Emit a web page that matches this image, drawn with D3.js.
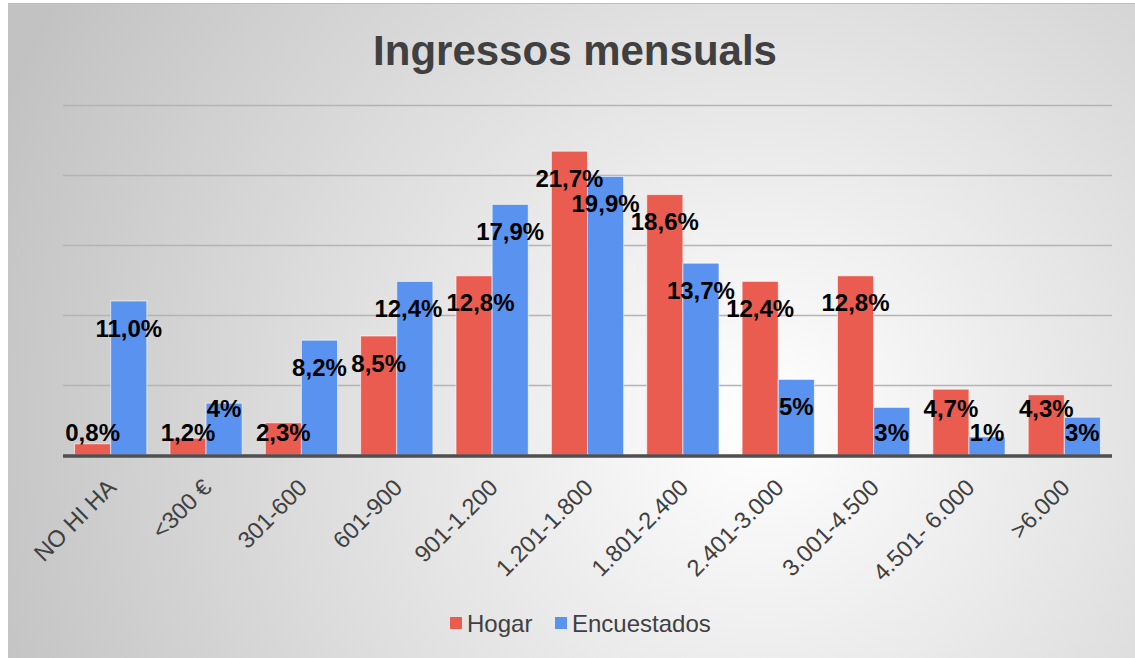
<!DOCTYPE html>
<html>
<head>
  <meta charset="utf-8">
  <script src="https://d3js.org/d3.v7.min.js"></script>
  <style>
  body {
    margin:0;
    background:#fff;
  }
  svg text {
    font-family: "Liberation Sans", Arial, sans-serif;
  }
  .x.axis text {
    font-size: 23.5px;
    fill: #404040;
  }
  .lbl {
    font-size: 24px;
    font-weight: bold;
    fill: #000;
  }
</style>
</head>
<body>
<script>

  var categories = ["NO HI HA", "<300 €", "301-600", "601-900", "901-1.200", "1.201-1.800",
    "1.801-2.400", "2.401-3.000", "3.001-4.500", "4.501- 6.000", ">6.000"];
  var series = ["Hogar", "Encuestados"];
  var hogar = [0.8, 1.2, 2.3, 8.5, 12.8, 21.7, 18.6, 12.4, 12.8, 4.7, 4.3];
  var encuestados = [11.0, 3.7, 8.2, 12.4, 17.9, 19.9, 13.7, 5.4, 3.4, 1.3, 2.7];
  var hogarLabels = ["0,8%", "1,2%", "2,3%", "8,5%", "12,8%", "21,7%", "18,6%", "12,4%", "12,8%", "4,7%", "4,3%"];
  var encuestadosLabels = ["11,0%", "4%", "8,2%", "12,4%", "17,9%", "19,9%", "13,7%", "5%", "3%", "1%", "3%"];
  var gridTicks = [0, 5, 10, 15, 20, 25];

  var colors = {"Hogar": "#EA5C50", "Encuestados": "#5A93EF"};

  var W = 1135, H = 658;
  var plot = {left: 63, right: 1112, top: 105, bottom: 455};

  var svg = d3.select("body").append("svg")
    .attr("width", W)
    .attr("height", H);

  // background
  var defs = svg.append("defs");
  var grad = defs.append("radialGradient")
    .attr("id", "bg")
    .attr("gradientUnits", "userSpaceOnUse")
    .attr("cx", 760).attr("cy", 420).attr("r", 820);
  grad.append("stop").attr("offset", "0%").attr("stop-color", "#ffffff");
  grad.append("stop").attr("offset", "100%").attr("stop-color", "#c2c2c2");

  svg.append("rect")
    .attr("x", 8).attr("y", 3)
    .attr("width", W - 8).attr("height", H - 3)
    .attr("fill", "url(#bg)");
  svg.append("line")
    .attr("x1", 8).attr("x2", W).attr("y1", 3.5).attr("y2", 3.5)
    .attr("stroke", "#bdbdbd");

  var x = d3.scaleBand().domain(categories).range([plot.left, plot.right]).padding(0);
  var x1 = d3.scaleBand().domain(series).range([0, x.bandwidth()]).paddingInner(0).paddingOuter(0.32);
  var y = d3.scaleLinear().domain([0, 25]).range([plot.bottom, plot.top]);

  // gridlines
  svg.append("g")
    .selectAll("line")
    .data(gridTicks.slice(1))
    .enter().append("line")
    .attr("x1", plot.left).attr("x2", plot.right)
    .attr("y1", d => y(d) + 0.5).attr("y2", d => y(d) + 0.5)
    .attr("stroke", "#b4b4b4")
    .attr("stroke-width", 1.3);

  // title
  svg.append("text")
    .attr("x", 575).attr("y", 65)
    .attr("text-anchor", "middle")
    .style("font-size", "42px")
    .style("font-weight", "bold")
    .style("fill", "#404040")
    .text("Ingressos mensuals");

  var rows = categories.map((c, i) => ({
    cat: c,
    vals: [
      {s: "Hogar", v: hogar[i], l: hogarLabels[i]},
      {s: "Encuestados", v: encuestados[i], l: encuestadosLabels[i]}
    ]
  }));

  // label placement: inside the top of the bar, but never below the floor;
  // when the pair collide on the floor, lift the taller bar's label
  var floorY = y(0) - 23;
  rows.forEach(r => {
    r.vals.forEach(d => { d.ly = Math.min(y(d.v) + 27, floorY); });
    var a = r.vals[0], b = r.vals[1];
    if (Math.abs(a.ly - b.ly) < 20) {
      var hi = a.v > b.v ? a : b, lo = hi === a ? b : a;
      hi.ly = lo.ly - 24;
    }
  });

  var groups = svg.selectAll(".grp")
    .data(rows)
    .enter().append("g")
    .attr("class", "grp")
    .attr("transform", d => "translate(" + x(d.cat) + ",0)");

  groups.selectAll("rect")
    .data(d => d.vals)
    .enter().append("rect")
    .attr("x", d => x1(d.s))
    .attr("width", x1.bandwidth())
    .attr("y", d => y(d.v))
    .attr("height", d => y(0) - y(d.v))
    .attr("fill", d => colors[d.s])
    .attr("stroke", "rgba(255,255,255,0.6)")
    .attr("stroke-width", 1);

  // baseline
  svg.append("line")
    .attr("x1", plot.left).attr("x2", plot.right)
    .attr("y1", y(0) + 1).attr("y2", y(0) + 1)
    .attr("stroke", "#4f4f4f")
    .attr("stroke-width", 3.5);

  // data labels
  var labels = groups.selectAll(".lbl")
    .data(d => d.vals)
    .enter().append("text")
    .attr("class", "lbl")
    .attr("x", d => x1(d.s) + x1.bandwidth() / 2)
    .attr("y", d => d.ly)
    .attr("text-anchor", "middle")
    .attr("dominant-baseline", "central")
    .text(d => d.l);

  // push apart neighbouring labels that sit at nearly the same height
  var nodes = labels.nodes();
  for (var i = 1; i < nodes.length; i++) {
    var pa = nodes[i - 1], pb = nodes[i];
    var da = d3.select(pa).datum(), db = d3.select(pb).datum();
    if (Math.abs(da.ly - db.ly) > 12) continue;
    var ba = pa.getBoundingClientRect(), bb = pb.getBoundingClientRect();
    var overlap = ba.right - bb.left + 4;
    if (overlap > 0) {
      d3.select(pa).attr("x", +d3.select(pa).attr("x") - overlap / 2);
      d3.select(pb).attr("x", +d3.select(pb).attr("x") + overlap / 2);
    }
  }

  // x axis
  var xAxis = d3.axisBottom(x).tickSize(0).tickPadding(0);
  var gx = svg.append("g")
    .attr("class", "x axis")
    .attr("transform", "translate(0," + plot.bottom + ")")
    .call(xAxis);
  gx.select(".domain").remove();
  gx.selectAll("text")
    .attr("y", 0).attr("dy", 0)
    .style("text-anchor", "end")
    .attr("transform", "translate(7,34) rotate(-45)");

  // legend
  var legend = svg.append("g").attr("transform", "translate(0,623)");
  var legendX = [450, 555];
  series.forEach((s, i) => {
    legend.append("rect")
      .attr("x", legendX[i]).attr("y", -6)
      .attr("width", 12).attr("height", 12)
      .attr("fill", colors[s]);
    legend.append("text")
      .attr("x", legendX[i] + 17).attr("y", 0)
      .attr("dominant-baseline", "central")
      .style("font-size", "24px")
      .style("fill", "#404040")
      .text(s);
  });

</script>
</body>
</html>
